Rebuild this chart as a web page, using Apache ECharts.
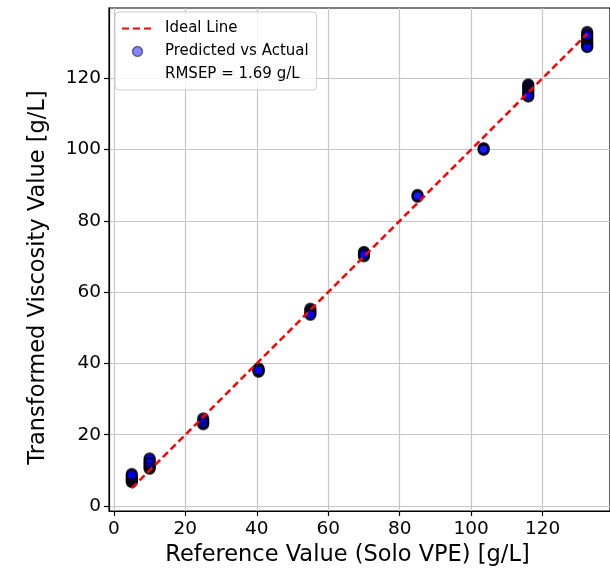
<!DOCTYPE html>
<html>
<head>
<meta charset="utf-8">
<script src="https://cdn.jsdelivr.net/npm/echarts@6/dist/echarts.min.js"></script>
<style>
  html, body { margin: 0; padding: 0; background: #ffffff; }
  #chart { width: 610px; height: 572px; }
</style>
</head>
<body>
<div id="chart"></div>
<script>
// Reference concentrations (Solo VPE), g/L
const refValues = [5, 10, 25, 40.5, 55, 70, 85, 103.5, 116, 132.5];

// Transformed viscosity values measured at each reference level, g/L
const predicted = [
  [6.7, 6.9, 7.2, 7.5, 7.8, 8.1, 8.4, 9.0, 8.7],
  [10.4, 10.7, 11.0, 11.3, 11.7, 12.2, 12.6, 13.0, 13.4, 12.0],
  [22.9, 23.3, 23.7, 24.1, 24.6, 23.2],
  [37.6, 38.6, 38.3, 37.9, 38.1],
  [55.4, 55.0, 54.6, 54.2, 53.9, 53.6],
  [71.3, 70.0, 71.0, 70.3, 70.6],
  [87.3, 86.7, 87.0],
  [100.4, 99.9, 100.1],
  [118.3, 118.0, 117.6, 117.2, 116.8, 116.4, 116.0, 115.6, 114.8, 115.1],
  [133.0, 132.6, 130.5, 130.1, 129.8, 129.5, 129.2, 128.9, 128.7, 131.0, 131.5, 131.8, 132.1]
];

// Ideal y = x line between the lowest and highest reference values
const idealEnds = [5, 132.5];

const tickValues = [0, 20, 40, 60, 80, 100, 120];
const rmsepLabel = 'RMSEP = 1.69 g/L';

const pairs = [];
refValues.forEach((r, i) => {
  predicted[i].forEach(p => pairs.push([r, p]));
});
const idealData = idealEnds.map(v => [v, v]);

const font = 'DejaVu Sans, Verdana, sans-serif';

const chart = echarts.init(document.getElementById('chart'), null, { renderer: 'canvas' });

function axisCommon(name, min, max, nameGap, labelMargin, namePadding) {
  return {
    type: 'value',
    min: min,
    max: max,
    name: name,
    nameLocation: 'middle',
    nameGap: nameGap,
    nameTextStyle: { fontFamily: font, fontSize: 22.5, color: '#000', padding: namePadding },
    axisLine: { show: true, onZero: false, lineStyle: { color: '#000', width: 1.2 } },
    axisTick: { show: true, inside: false, length: 5, lineStyle: { color: '#000', width: 1.2 }, customValues: tickValues },
    axisLabel: { fontFamily: font, fontSize: 18.5, color: '#000', margin: labelMargin, customValues: tickValues },
    splitLine: { show: true, lineStyle: { color: '#c6c6c6', width: 1.2 } }
  };
}

const option = {
  backgroundColor: '#ffffff',
  animation: false,
  grid: {
    left: 109, top: 8, right: 0, bottom: 61,
    show: true, borderColor: '#000', borderWidth: 1.2, backgroundColor: 'transparent'
  },
  xAxis: axisCommon('Reference Value (Solo VPE) [g/L]', -1.375, 138.875, 33, 9, [0, 24, 0, 0]),
  yAxis: Object.assign(
    axisCommon('Transformed Viscosity Value [g/L]', -1.4, 139.7, 59, 8, [0, 36, 0, 0]),
    { nameRotate: 90 }
  ),
  legend: {
    orient: 'vertical',
    left: 115,
    top: 12,
    padding: [9, 8, 8, 6],
    itemGap: 8,
    itemWidth: 31,
    itemHeight: 10,
    backgroundColor: 'rgba(255,255,255,0.8)',
    borderColor: '#cccccc',
    borderWidth: 1,
    borderRadius: 4,
    selectedMode: false,
    textStyle: { fontFamily: font, fontSize: 15, color: '#000', padding: [0, 0, 0, 7] },
    data: [
      { name: 'Ideal Line', itemStyle: { opacity: 0 } },
      {
        name: 'Predicted vs Actual',
        icon: 'circle',
        itemStyle: { color: 'rgba(0,0,255,0.6)', borderColor: 'rgba(0,0,0,0.6)', borderWidth: 1.5 }
      },
      { name: rmsepLabel, icon: 'circle', itemStyle: { opacity: 0 } }
    ]
  },
  series: [
    {
      name: 'Predicted vs Actual',
      type: 'scatter',
      data: pairs,
      symbol: 'circle',
      symbolSize: 10,
      z: 2,
      itemStyle: {
        color: 'rgba(0,0,255,0.65)',
        borderColor: 'rgba(0,0,0,0.9)',
        borderWidth: 2.2
      },
      emphasis: { disabled: true }
    },
    {
      name: 'Ideal Line',
      type: 'line',
      data: idealData,
      symbol: 'none',
      z: 3,
      lineStyle: { color: '#ff0000', width: 2.5, type: [7, 4] },
      itemStyle: { color: '#ff0000' },
      emphasis: { disabled: true }
    },
    {
      name: rmsepLabel,
      type: 'scatter',
      data: [],
      itemStyle: { color: 'rgba(0,0,0,0)' }
    }
  ]
};

chart.setOption(option);
</script>
</body>
</html>
